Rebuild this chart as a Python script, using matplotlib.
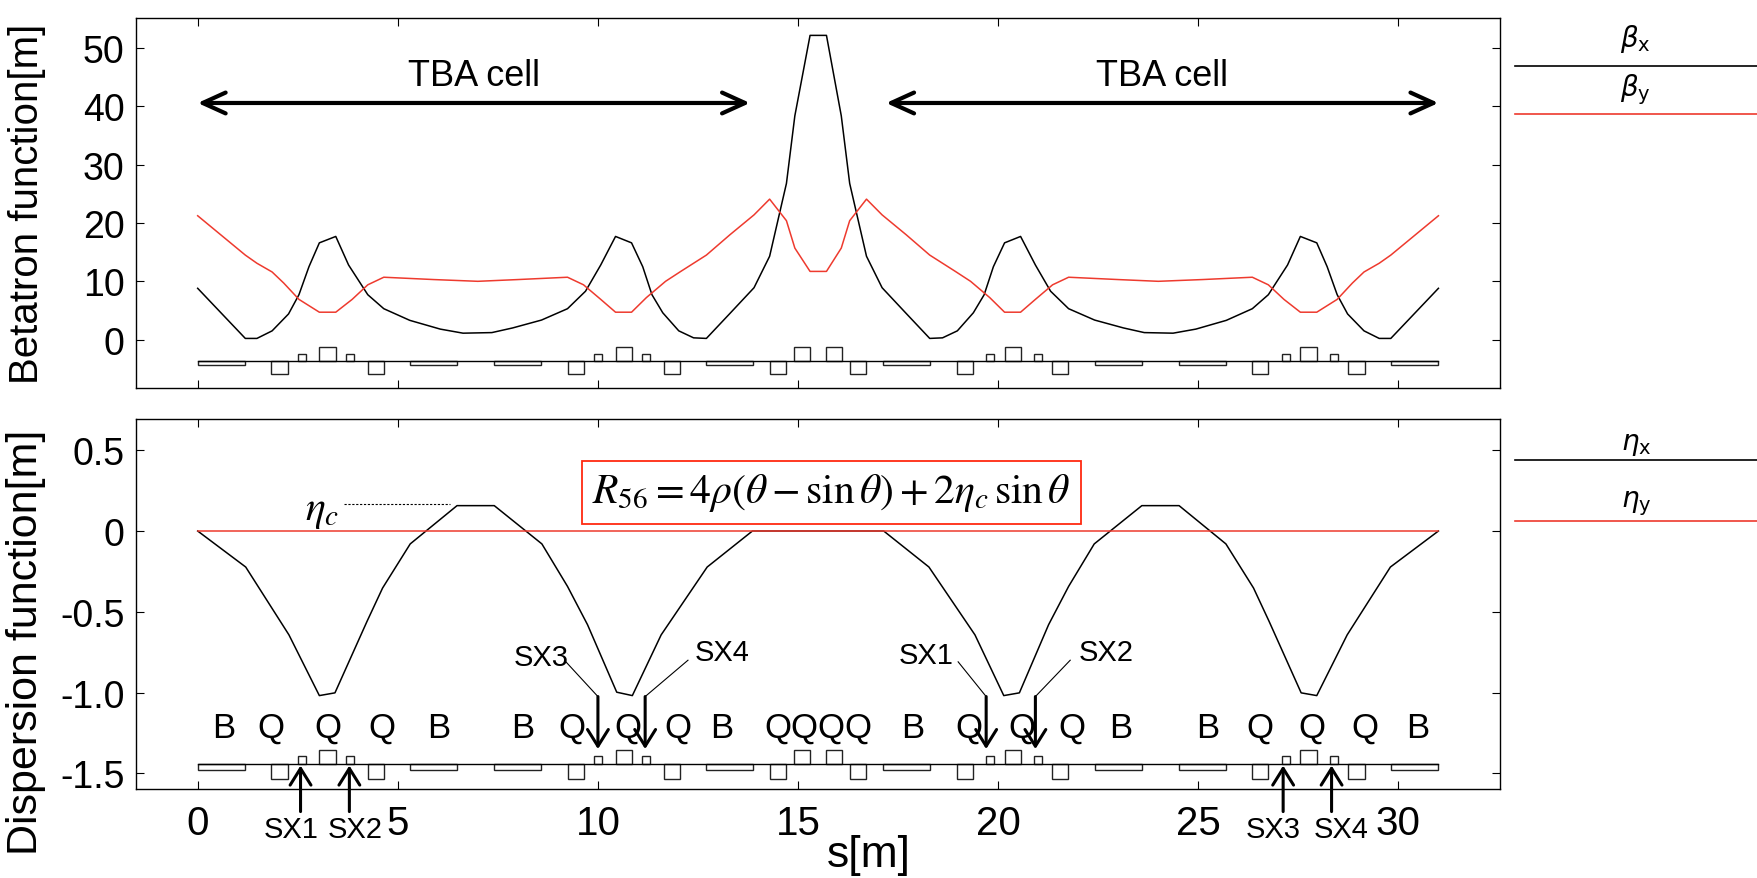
import matplotlib
matplotlib.use('Agg')
import matplotlib.pyplot as plt
from matplotlib.patches import Rectangle
from matplotlib.lines import Line2D

plt.rcParams['font.family'] = ['Liberation Sans', 'DejaVu Sans']
plt.rcParams['mathtext.fontset'] = 'dejavusans'

# ---- optics (s in m) ----
s_bx = [0, 1.19, 1.48, 1.86, 2.27, 2.53, 2.78, 3.04, 3.45, 3.77, 4.25, 4.65, 5.3, 6.06, 6.63,
        7.35, 7.87, 8.59, 9.24, 9.69, 10.07, 10.44, 10.84, 11.12, 11.35, 11.62, 12.02, 12.39,
        12.71, 13.3, 13.9, 14.29, 14.71, 14.92, 15.3,
        15.71, 16.08, 16.29, 16.71, 17.1, 17.7, 18.29, 18.61, 18.98, 19.38, 19.65, 19.88,
        20.16, 20.56, 20.93, 21.31, 21.76, 22.41, 23.13, 23.65, 24.37, 24.94, 25.7, 26.35,
        26.75, 27.23, 27.55, 27.96, 28.22, 28.47, 28.73, 29.14, 29.52, 29.81, 31.0]
beta_x = [8.8, 0.2, 0.2, 1.5, 4.4, 7.7, 12.5, 16.6, 17.7, 12.8, 7.7, 5.3, 3.3, 1.8, 1.1,
          1.2, 2.0, 3.35, 5.3, 8.3, 12.8, 17.7, 16.6, 12.5, 7.7, 4.6, 1.5, 0.3,
          0.2, 4.5, 8.9, 14.3, 26.8, 38.4, 52.2,
          52.2, 38.4, 26.8, 14.3, 8.9, 4.5, 0.2, 0.3, 1.5, 4.6, 7.7, 12.5,
          16.6, 17.7, 12.8, 8.3, 5.3, 3.35, 2.0, 1.2, 1.1, 1.8, 3.3, 5.3,
          7.7, 12.8, 17.7, 16.6, 12.5, 7.7, 4.4, 1.5, 0.2, 0.2, 8.8]

s_by = [0, 1.19, 1.48, 1.86, 2.15, 2.53, 3.04, 3.45, 3.86, 4.25, 4.65, 5.9, 7.0, 8.0, 9.24,
        9.64, 10.07, 10.44, 10.84, 11.21, 11.69, 12.07, 12.71, 13.3, 13.9, 14.29, 14.71,
        14.92, 15.3, 15.71, 16.08, 16.29, 16.71, 17.1, 17.7, 18.29, 18.93, 19.31, 19.79,
        20.16, 20.56, 20.93, 21.36, 21.76, 23.0, 24.0, 25.1, 26.35, 26.75, 27.14, 27.55,
        27.96, 28.47, 28.85, 29.14, 29.52, 29.81, 31.0]
beta_y = [21.25, 14.5, 13.1, 11.6, 9.7, 6.9, 4.7, 4.7, 6.9, 9.4, 10.7, 10.3, 10.0, 10.3, 10.7,
          9.4, 6.9, 4.7, 4.7, 7.2, 10.0, 11.7, 14.5, 18.0, 21.4, 24.1, 20.4,
          15.7, 11.7, 11.7, 15.7, 20.4, 24.1, 21.4, 18.0, 14.5, 11.7, 10.0, 7.2,
          4.7, 4.7, 6.9, 9.4, 10.7, 10.3, 10.0, 10.3, 10.7, 9.4, 6.9, 4.7,
          4.7, 6.9, 9.7, 11.6, 13.1, 14.5, 21.25]

s_eta = [0, 1.2, 2.28, 3.04, 3.43, 4.23, 4.62, 5.31, 6.48, 7.41, 8.6, 9.24, 9.74, 10.47,
         10.86, 11.58, 12.73, 13.86, 17.14, 18.27, 19.42, 20.14, 20.53, 21.26, 21.76, 22.4,
         23.59, 24.52, 25.69, 26.38, 26.77, 27.57, 27.96, 28.72, 29.8, 31.0]
eta_x = [0, -0.223, -0.643, -1.019, -1.002, -0.56, -0.353, -0.08, 0.157, 0.157, -0.08,
         -0.343, -0.58, -0.998, -1.019, -0.643, -0.223, 0, 0, -0.223, -0.643, -1.019, -1.002,
         -0.58, -0.343, -0.08, 0.157, 0.157, -0.08, -0.353, -0.56, -1.002, -1.019, -0.643,
         -0.223, 0]
s_eta_y = [0, 31.0]
eta_y = [0, 0]

# ---- lattice elements (start, end) ----
dipoles = [(0, 1.19), (5.31, 6.49), (7.41, 8.59), (12.71, 13.88),
           (17.12, 18.29), (22.41, 23.59), (24.51, 25.69), (29.81, 31.0)]
quad_f = [(3.04, 3.45), (10.44, 10.84), (14.9, 15.3), (15.7, 16.1), (20.16, 20.56), (27.55, 27.96)]
quad_d = [(1.84, 2.26), (4.25, 4.65), (9.26, 9.66), (11.64, 12.04), (14.29, 14.71),
          (16.29, 16.71), (18.96, 19.36), (21.34, 21.74), (26.35, 26.75), (28.74, 29.16)]
sext = [(2.5, 2.7), (3.7, 3.9), (9.9, 10.1), (11.1, 11.3), (19.7, 19.9), (20.9, 21.1),
        (27.1, 27.3), (28.3, 28.5)]

mag_labels = ['B', 'Q', 'Q', 'Q', 'B', 'B', 'Q', 'Q', 'Q', 'B', 'QQQQ',
              'B', 'Q', 'Q', 'Q', 'B', 'B', 'Q', 'Q', 'Q', 'B']
mag_label_s = [0.64, 1.84, 3.25, 4.59, 6.02, 8.12, 9.35, 10.76, 12.0, 13.08, 15.5,
               17.87, 19.27, 20.59, 21.85, 23.05, 25.24, 26.53, 27.84, 29.16, 30.48]

# sextupole markers below the axis
sx_low_names = ['SX1', 'SX2', 'SX3', 'SX4']
sx_low_s = [2.57, 3.79, 27.12, 28.33]
sx_low_text_s = [2.34, 3.94, 26.86, 28.58]
# sextupole markers inside the plot
sx_up_names = ['SX3', 'SX4', 'SX1', 'SX2']
sx_up_s = [10.0, 11.18, 19.7, 20.93]
sx_up_text_s = [8.57, 13.1, 18.2, 22.7]
sx_up_text_y = [-0.78, -0.75, -0.77, -0.75]
sx_up_lead = [(9.2, -0.81), (12.25, -0.80), (19.0, -0.81), (21.8, -0.80)]

red = '#ee3a2e'

fig = plt.figure(figsize=(17.57, 8.79), dpi=100)
ax1 = fig.add_axes([0.0772, 0.5575, 0.7768, 0.421])
ax2 = fig.add_axes([0.0772, 0.1013, 0.7768, 0.421])


def draw_lattice(ax, base, hq, hs, hd):
    ax.plot([0, 31], [base, base], color='k', lw=1)
    kw = dict(fill=False, ec='#222222', lw=1)
    for a, b in dipoles:
        ax.add_patch(Rectangle((a, base - hd), b - a, hd, **kw))
    for a, b in quad_f:
        ax.add_patch(Rectangle((a, base), b - a, hq, **kw))
    for a, b in quad_d:
        ax.add_patch(Rectangle((a, base - hq), b - a, hq, **kw))
    for a, b in sext:
        ax.add_patch(Rectangle((a, base), b - a, hs, **kw))


for ax in (ax1, ax2):
    ax.set_xlim(-1.55, 32.55)
    ax.set_xticks([0, 5, 10, 15, 20, 25, 30])
    ax.tick_params(direction='in', top=True, right=True, length=6, width=0.8)
    for sp in ax.spines.values():
        sp.set_linewidth(1)

# ---- top: betatron functions ----
ax1.plot(s_bx, beta_x, color='k', lw=1.1)
ax1.plot(s_by, beta_y, color=red, lw=1.1)
draw_lattice(ax1, -3.64, 2.3, 1.15, 0.7)
ax1.set_ylim(-8.3, 55.2)
ax1.set_yticks([0, 10, 20, 30, 40, 50])
ax1.set_xticklabels([])
ax1.tick_params(axis='y', labelsize=27, pad=8)
ax1.set_ylabel('Betatron function[m]', fontsize=29)
ax1.yaxis.set_label_coords(-0.066, 0.5)

for x0, x1, xc in [(0, 13.8, 6.9), (17.2, 31.0, 24.1)]:
    ax1.annotate('', xy=(x1, 40.6), xytext=(x0, 40.6),
                 arrowprops=dict(arrowstyle='<->,head_length=0.55,head_width=0.25',
                                 lw=3, color='k', shrinkA=0, shrinkB=0, mutation_scale=30))
    ax1.text(xc, 45.4, 'TBA cell', fontsize=26, ha='center', va='center')

# ---- bottom: dispersion ----
ax2.plot(s_eta, eta_x, color='k', lw=1.1)
ax2.plot(s_eta_y, eta_y, color=red, lw=1.1)
draw_lattice(ax2, -1.444, 0.09, 0.048, 0.035)
ax2.set_ylim(-1.597, 0.694)
ax2.set_yticks([0.5, 0, -0.5, -1.0, -1.5])
ax2.set_yticklabels(['0.5', '0', '-0.5', '-1.0', '-1.5'])
ax2.tick_params(axis='y', labelsize=27, pad=8)
ax2.tick_params(axis='x', labelsize=29, pad=11)
ax2.set_ylabel('Dispersion function[m]', fontsize=31)
ax2.yaxis.set_label_coords(-0.066, 0.40)
ax2.set_xlabel('s[m]', fontsize=32)
ax2.xaxis.set_label_coords(0.537, -0.122)

for name, xs in zip(mag_labels, mag_label_s):
    ax2.text(xs, -1.215, name, fontsize=25, ha='center', va='center')

for name, xa, xt in zip(sx_low_names, sx_low_s, sx_low_text_s):
    ax2.annotate('', xy=(xa, -1.452), xytext=(xa, -1.737), annotation_clip=False,
                 arrowprops=dict(arrowstyle='->,head_length=0.4,head_width=0.25', lw=2.2,
                                 color='k', shrinkA=0, shrinkB=0, mutation_scale=30))
    ax2.text(xt, -1.845, name, fontsize=21, ha='center', va='center', clip_on=False)

for name, xa, xt, yt, (lx, ly) in zip(sx_up_names, sx_up_s, sx_up_text_s, sx_up_text_y, sx_up_lead):
    ax2.text(xt, yt, name, fontsize=21, ha='center', va='center')
    ax2.plot([lx, xa], [ly, -1.025], color='k', lw=0.8)
    ax2.annotate('', xy=(xa, -1.35), xytext=(xa, -1.025),
                 arrowprops=dict(arrowstyle='->,head_length=0.4,head_width=0.25', lw=2.2,
                                 color='k', shrinkA=0, shrinkB=0, mutation_scale=30))

# eta_c marker
ax2.plot([3.65, 6.3], [0.167, 0.167], color='k', lw=0.8, ls=(0, (2, 1.5)))
ax2.text(3.1, 0.13, r'$\eta_c$', fontsize=30, ha='center', va='center', math_fontfamily='stix')

ax2.text(15.83, 0.24, r'$R_{56}=4\rho(\theta-\sin\theta)+2\eta_c\,\sin\theta$',
         fontsize=30, ha='center', va='center', math_fontfamily='stix',
         bbox=dict(boxstyle='square,pad=0.25', fc='white', ec='#ff2a10', lw=1.3))

# ---- legends on the right ----
leg = [(r'$\beta_{\rm x}$', 'k', 0.9556, 0.9238),
       (r'$\beta_{\rm y}$', red, 0.8976, 0.8692),
       (r'$\eta_{\rm x}$', 'k', 0.4937, 0.4761),
       (r'$\eta_{\rm y}$', red, 0.4266, 0.4061)]
for lab, col, ty, ly in leg:
    fig.text(0.931, ty, lab, fontsize=20, ha='center', va='center')
    fig.add_artist(Line2D([0.862, 1.0], [ly, ly], color=col, lw=1.2, transform=fig.transFigure))

fig.savefig('out.png', dpi=100)
